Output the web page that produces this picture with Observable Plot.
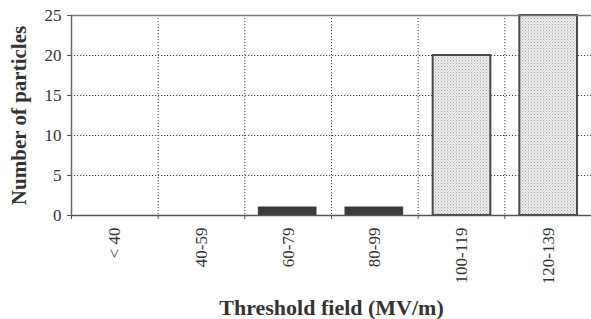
<!DOCTYPE html>
<html>
<head>
<meta charset="utf-8">
<script src="https://cdn.jsdelivr.net/npm/d3@7"></script>
<script src="https://cdn.jsdelivr.net/npm/@observablehq/plot@0.6"></script>
<style>
  html, body { margin: 0; padding: 0; background: #fff; }
</style>
</head>
<body>
<div id="chart"></div>
<script>
const categories = ["< 40", "40-59", "60-79", "80-99", "100-119", "120-139"];
const counts = [0, 0, 1, 1, 20, 25];
const kinds = ["dark", "dark", "dark", "dark", "light", "light"];
const yTicks = [0, 5, 10, 15, 20, 25];

const table = categories.map((c, i) => ({i, cat: c, count: counts[i], kind: kinds[i]}));
const n = categories.length;
const ink = "#333";

const svg = Plot.plot({
  width: 591,
  height: 319,
  marginLeft: 71,
  marginRight: 0,
  marginTop: 15,
  marginBottom: 104,
  style: {fontFamily: "'Liberation Serif', 'Times New Roman', serif", fontSize: "17px", color: ink, background: "#fff"},
  x: {domain: [0, n], axis: null},
  y: {domain: [0, 25], axis: null},
  marks: [
    Plot.gridY({ticks: yTicks.slice(1, -1), stroke: "#444", strokeOpacity: 1, strokeDasharray: "1.2,1.8", strokeWidth: 1}),
    Plot.gridX({ticks: d3.range(1, n), stroke: "#444", strokeOpacity: 1, strokeDasharray: "1.2,1.8", strokeWidth: 1}),
    Plot.rectY(table.filter(d => d.kind === "dark" && d.count > 0), {x1: "i", x2: d => d.i + 1, y: "count", insetLeft: 14, insetRight: 15, fill: "#3a3a3a", stroke: "#3a3a3a", strokeWidth: 1}),
    Plot.rectY(table.filter(d => d.kind === "light"), {x1: "i", x2: d => d.i + 1, y: "count", insetLeft: 15, insetRight: 14, fill: "url(#stip)", stroke: "#4a4a4a", strokeWidth: 2}),
    Plot.ruleY([0], {stroke: "#555", strokeWidth: 1.5}),
    Plot.ruleY([25], {stroke: "#777", strokeWidth: 1.5}),
    Plot.ruleX([0], {stroke: "#666", strokeWidth: 1.5}),
    Plot.axisY({ticks: yTicks, tickSize: 4, tickPadding: 6, label: null, stroke: "#555"}),
    Plot.axisX({ticks: d3.range(0, n + 1), tickSize: 4, tickFormat: () => "", label: null, stroke: "#555"}),
    Plot.text(table, {x: d => d.i + 0.5, text: "cat", frameAnchor: "bottom", rotate: -90, textAnchor: "end", lineAnchor: "middle", dy: 12, fill: ink}),
    Plot.text(["Threshold field (MV/m)"], {frameAnchor: "bottom", textAnchor: "middle", dy: 99, fontWeight: "bold", fontSize: 22, fill: ink}),
    Plot.text(["Number of particles"], {frameAnchor: "left", textAnchor: "middle", dx: -52, rotate: -90, fontWeight: "bold", fontSize: 21, fill: ink})
  ]
});

const ns = "http://www.w3.org/2000/svg";
const defs = document.createElementNS(ns, "defs");
defs.innerHTML = `<pattern id="stip" width="3" height="3" patternUnits="userSpaceOnUse">
  <rect width="3" height="3" fill="#ececec"></rect>
  <rect x="0" y="0" width="1" height="1" fill="#a8a8a8"></rect>
  <rect x="1.5" y="1.5" width="1" height="1" fill="#c4c4c4"></rect>
</pattern>`;
svg.insertBefore(defs, svg.firstChild);
document.getElementById("chart").appendChild(svg);
</script>
</body>
</html>
